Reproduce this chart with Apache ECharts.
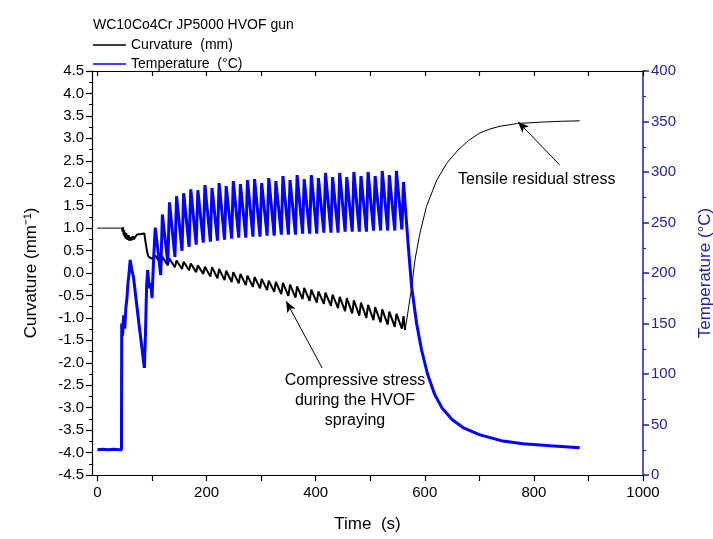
<!DOCTYPE html>
<html><head><meta charset="utf-8">
<script src="https://cdn.jsdelivr.net/npm/echarts@6/dist/echarts.min.js"></script>
<style>html,body{margin:0;padding:0;background:#fff}#c{width:713px;height:539px}</style>
</head><body><div id="c"></div>
<script>
// ---------- Temperature (°C), right axis ----------
const tempPreT = [0,10,20,30,40,44,44.5,46,48,50,52,54,56,58,60,63,66,76,86,88,90,92,95,98,100,103];
const tempPreV = [25,25.5,25,25.5,25,25,150,138,158,145,165,175,190,200,213,203,196,150,106,140,185,203,185,190,175,215];
const tempPeakT = [106,119,132,145,158,171,184,197,210,223,236,249,262,275,288,301,314,327,340,353,366,379,392,405,418,431,444,457,470,483,496,509,522,535,548,561];
const tempPeakV = [245,258,270,276,279,283,282,287,284,289,286,291,288,292,293,289,294,291,296,292,297,293,297,294,299,295,299,295,300,296,300,296,301,297,301,290];
const tempTroughT = [116,129,142,155,168,181,194,207,220,233,246,259,272,285,298,311,324,337,350,363,376,389,402,415,428,441,454,467,480,493,506,519,532,545,558];
const tempTroughV = [198,210,216,222,226,228,230,231,232,233,234,235,235,236,236,237,237,238,238,238,239,239,239,240,240,240,241,241,241,241,242,242,242,242,243];
const tempEndT = [564,570,576,585,594,605,618,632,650,670,700,740,780,830,884];
const tempEndV = [268,225,186,150,124,100,80,66,55,47,40,34,31,29,27];

// ---------- Curvature (mm^-1), left axis ----------
const curvFlatT = [0,45];
const curvFlatV = [1.0,1.0];
const curvPreT = [45,46,47,48,49,50,51,52,53,55,57,59,61,63,65,67,69,71,73,80,86,88,90,92,94,97,100];
const curvPreV = [1.0,0.92,1.02,0.85,0.95,0.80,0.90,0.76,0.88,0.74,0.84,0.72,0.80,0.73,0.82,0.75,0.80,0.78,0.86,0.87,0.88,0.70,0.55,0.42,0.36,0.40,0.32];
const curvMaxT = tempPeakT;
const curvMaxV = [0.39,0.36,0.32,0.28,0.25,0.21,0.17,0.14,0.13,0.09,0.05,0.02,-0.02,-0.06,-0.09,-0.13,-0.17,-0.20,-0.22,-0.26,-0.30,-0.33,-0.37,-0.41,-0.44,-0.48,-0.53,-0.56,-0.61,-0.66,-0.71,-0.76,-0.81,-0.86,-0.91,-0.96];
const curvMinT = tempTroughT;
const curvMinV = [0.20,0.17,0.13,0.09,0.06,0.02,-0.02,-0.08,-0.12,-0.16,-0.20,-0.23,-0.27,-0.31,-0.34,-0.38,-0.42,-0.47,-0.51,-0.55,-0.58,-0.62,-0.66,-0.69,-0.73,-0.78,-0.85,-0.90,-0.95,-1.00,-1.05,-1.10,-1.15,-1.20,-1.24];
const curvLowT = [564];
const curvLowV = [-1.27];
const curvEndT = [564,570,576,582,591,603,622,640,661,680,701,720,738,770,811,850,884];
const curvEndV = [-1.27,-0.8,-0.31,0.29,0.88,1.48,2.07,2.44,2.74,2.95,3.12,3.21,3.27,3.33,3.36,3.38,3.39];

// ---------- Axis ticks ----------
const xLabels = [0,200,400,600,800,1000];
const xTicks = [0,100,200,300,400,500,600,700,800,900,1000];

// ---------- Annotations (data coords) ----------
const tensileArrow = [[847,2.41],[771,3.37]];
const compressArrow = [[412,-2.12],[346,-0.63]];

function pairs(T,V){ return T.map((t,i)=>[t,V[i]]); }
function cycles(aT,aV,bT,bV){
  const out=[];
  aT.forEach((t,i)=>{ out.push([t,aV[i]]); if(i<bT.length) out.push([bT[i],bV[i]]); });
  return out;
}
const tempData = pairs(tempPreT,tempPreV).concat(cycles(tempPeakT,tempPeakV,tempTroughT,tempTroughV), pairs(tempEndT,tempEndV));
const curvActive = pairs(curvPreT,curvPreV).concat(cycles(curvMaxT,curvMaxV,curvMinT,curvMinV), pairs(curvLowT,curvLowV));
const curvThinA = pairs(curvFlatT,curvFlatV);
const curvThinB = pairs(curvEndT,curvEndV);

const FONT = "'Liberation Sans', Arial, sans-serif";
const BLUE_AX = '#1f1fa8';
const CURV = 'Curvature  (mm)';
const TEMP = 'Temperature  (°C)';
const chart = echarts.init(document.getElementById('c'), null, {renderer:'canvas'});
const thinCurve = d => ({name:CURV, type:'line', xAxisIndex:0, yAxisIndex:0, data:d,
  showSymbol:false, symbol:'none', z:2, lineStyle:{color:'#000', width:1}, itemStyle:{color:'#000'}});
chart.setOption({
  animation:false,
  backgroundColor:'#fff',
  textStyle:{fontFamily:FONT},
  title:{text:'WC10Co4Cr JP5000 HVOF gun', left:88, top:13, textStyle:{fontSize:14, fontWeight:'normal', color:'#000', fontFamily:FONT}},
  legend:{orient:'vertical', left:88, top:33, itemWidth:33, itemHeight:1.5, itemGap:5, icon:'rect',
    textStyle:{fontSize:14, color:'#000', fontFamily:FONT},
    data:[CURV, TEMP]},
  grid:{left:92, right:70, top:71, bottom:64, containLabel:false, outerBoundsMode:'none'},
  xAxis:[
    {type:'value', min:-10, max:1000, position:'bottom',
      axisLine:{show:true, onZero:false, lineStyle:{color:'#000', width:1.2}},
      axisTick:{show:true, inside:false, length:6, customValues:xTicks, lineStyle:{color:'#000', width:1.2}},
      axisLabel:{customValues:xLabels, formatter:v=>String(v), fontSize:15, color:'#000', margin:10, fontFamily:FONT},
      splitLine:{show:false},
      name:'Time  (s)', nameLocation:'middle', nameGap:41, nameTextStyle:{fontSize:17, color:'#000', fontFamily:FONT}},
    {type:'value', min:-10, max:1000, position:'top',
      axisLine:{show:true, onZero:false, lineStyle:{color:'#000', width:1.2}},
      axisTick:{show:true, inside:true, length:5, customValues:xTicks, lineStyle:{color:'#000', width:1.2}},
      axisLabel:{show:false}, splitLine:{show:false}}
  ],
  yAxis:[
    {type:'value', min:-4.5, max:4.5, interval:0.5, position:'left',
      axisLine:{show:true, onZero:false, lineStyle:{color:'#000', width:1.2}},
      axisTick:{show:true, inside:false, length:6, lineStyle:{color:'#000', width:1.2}},
      minorTick:{show:true, splitNumber:2, length:3, lineStyle:{color:'#000', width:1}},
      axisLabel:{formatter:v=>v.toFixed(1), fontSize:15, color:'#000', margin:8, fontFamily:FONT},
      splitLine:{show:false},
      name:'Curvature (mm⁻¹)', nameLocation:'middle', nameGap:52, nameRotate:90,
      nameTextStyle:{fontSize:17, color:'#000', fontFamily:FONT}},
    {type:'value', min:0, max:400, interval:50, position:'right',
      axisLine:{show:true, onZero:false, lineStyle:{color:BLUE_AX, width:1.5}},
      axisTick:{show:true, inside:false, length:6, lineStyle:{color:BLUE_AX, width:1.5}},
      minorTick:{show:true, splitNumber:2, length:3, lineStyle:{color:BLUE_AX, width:1.2}},
      axisLabel:{fontSize:15, color:BLUE_AX, margin:8, fontFamily:FONT},
      splitLine:{show:false},
      name:'Temperature (°C)', nameLocation:'middle', nameGap:54, nameRotate:90,
      nameTextStyle:{fontSize:17, color:BLUE_AX, fontFamily:FONT}}
  ],
  series:[
    thinCurve(curvThinA),
    {name:CURV, type:'line', xAxisIndex:0, yAxisIndex:0, data:curvActive,
      showSymbol:false, symbol:'none', z:2,
      lineStyle:{color:'#000', width:2}, itemStyle:{color:'#000'},
      markLine:{silent:true, animation:false, symbol:['none','arrow'], symbolSize:[7,11],
        lineStyle:{color:'#000', width:1, type:'solid'}, label:{show:false},
        emphasis:{disabled:true},
        data:[
          [{coord:tensileArrow[0]},{coord:tensileArrow[1]}],
          [{coord:compressArrow[0]},{coord:compressArrow[1]}]
        ]}},
    thinCurve(curvThinB),
    {name:TEMP, type:'line', xAxisIndex:0, yAxisIndex:1, data:tempData,
      showSymbol:false, symbol:'none', z:3,
      lineStyle:{color:'#0000ff', width:3}, itemStyle:{color:'#0000ff'}}
  ],
  graphic:[
    {type:'text', left:458, top:172, style:{text:'Tensile residual stress', fontSize:16, fill:'#000', fontFamily:FONT}},
    {type:'text', x:355, y:371, style:{text:'Compressive stress\nduring the HVOF\nspraying', align:'center', fontSize:16, lineHeight:20, fill:'#000', fontFamily:FONT}}
  ]
});
</script></body></html>
